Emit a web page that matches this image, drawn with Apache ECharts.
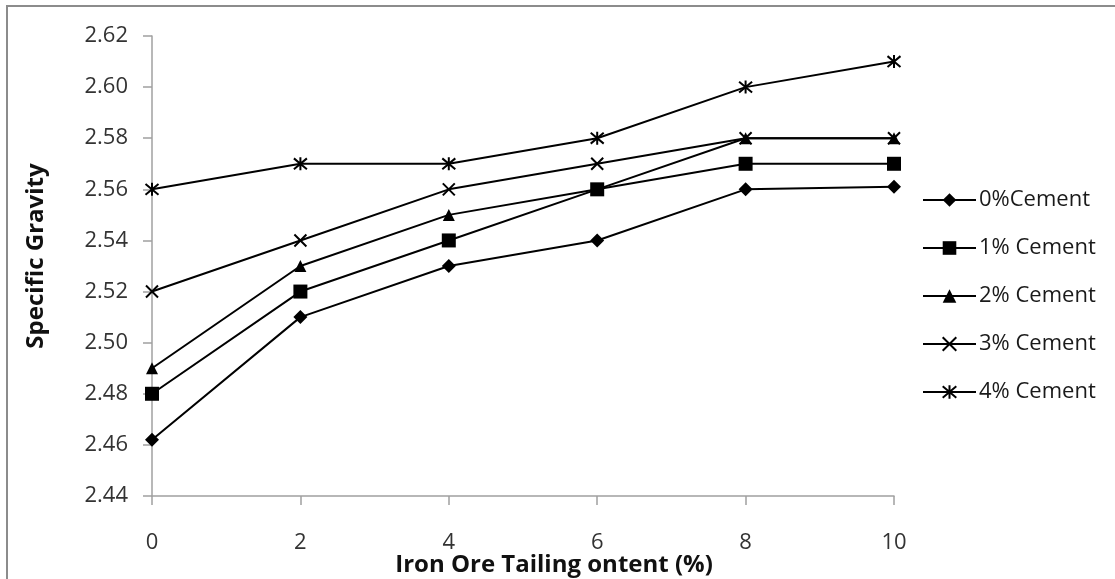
<!DOCTYPE html>
<html>
<head>
<meta charset="utf-8">
<script src="https://cdn.jsdelivr.net/npm/echarts@6/dist/echarts.min.js"></script>
<style>
html,body{margin:0;padding:0;background:#fff;}
#chart{width:1115px;height:579px;}
</style>
</head>
<body>
<div id="chart"></div>
<script>
var xValues = [0, 2, 4, 6, 8, 10];
var seriesNames = ['0%Cement', '1% Cement', '2% Cement', '3% Cement', '4% Cement'];
var cement0 = [2.462, 2.51, 2.53, 2.54, 2.56, 2.561];
var cement1 = [2.48, 2.52, 2.54, 2.56, 2.57, 2.57];
var cement2 = [2.49, 2.53, 2.55, 2.56, 2.58, 2.58];
var cement3 = [2.52, 2.54, 2.56, 2.57, 2.58, 2.58];
var cement4 = [2.56, 2.57, 2.57, 2.58, 2.60, 2.61];
var yTicks = ['2.44','2.46','2.48','2.50','2.52','2.54','2.56','2.58','2.60','2.62'];

var FONT = '"Open Sans", sans-serif';
var allSeries = [cement0, cement1, cement2, cement3, cement4];
var symbols = [
  'diamond',
  'rect',
  'triangle',
  'path://M0,0L10,10M10,0L0,10',
  'path://M0,0L10,10M10,0L0,10M5,-1L5,11'
];
var sizes = [14, 14, 12, 12, 13];
var isStroke = [false, false, false, true, true];

function pairs(vals){ return xValues.map(function(x,i){ return [x, vals[i]]; }); }

var chart = echarts.init(document.getElementById('chart'), null, {renderer:'canvas'});
var option = {
  animation: false,
  backgroundColor: '#fff',
  graphic: [{
    type: 'rect',
    shape: {x: 7, y: 6, width: 1300, height: 800},
    style: {fill: 'none', stroke: '#8c8c8c', lineWidth: 2},
    silent: true
  }],
  grid: {left: 152, right: 221, top: 36, bottom: 83, containLabel: false, outerBoundsMode: 'none'},
  legend: {
    orient: 'vertical',
    left: 917,
    top: 184,
    itemWidth: 53,
    itemHeight: 17,
    itemGap: 26,
    textStyle: {fontFamily: FONT, fontSize: 22, color: '#1a1a1a', padding: [0,0,0,-2]},
    data: seriesNames
  },
  xAxis: {
    type: 'value',
    min: 0, max: 10, interval: 2,
    name: 'Iron Ore Tailing ontent (%)',
    nameLocation: 'middle',
    nameGap: 57,
    nameMoveOverlap: false,
    nameTextStyle: {fontFamily: FONT, fontSize: 24, fontWeight: 'bold', color: '#111', padding: [0,0,0,62]},
    axisLine: {lineStyle: {color: '#a0a0a0', width: 1.5}},
    axisTick: {show: true, inside: false, length: 9, lineStyle: {color: '#a0a0a0', width: 1.5}},
    axisLabel: {fontFamily: FONT, fontSize: 22, color: '#333', margin: 36},
    splitLine: {show: false}
  },
  yAxis: {
    type: 'value',
    min: 2.44, max: 2.62, interval: 0.02,
    name: 'Specific Gravity',
    nameLocation: 'middle',
    nameGap: 104,
    nameMoveOverlap: false,
    nameRotate: 90,
    nameTextStyle: {fontFamily: FONT, fontSize: 24, fontWeight: 'bold', color: '#111', padding: [0,0,0,20]},
    axisLine: {show: true, lineStyle: {color: '#a0a0a0', width: 1.5}},
    axisTick: {show: true, inside: false, length: 9, lineStyle: {color: '#a0a0a0', width: 1.5}},
    axisLabel: {fontFamily: FONT, fontSize: 22, color: '#333', margin: 24,
      formatter: function(v){ var s = v.toFixed(2); return yTicks.indexOf(s) >= 0 ? s : ''; }},
    splitLine: {show: false}
  },
  series: allSeries.map(function(vals, i){
    return {
      name: seriesNames[i],
      type: 'line',
      data: pairs(vals),
      symbol: symbols[i],
      symbolSize: sizes[i],
      showAllSymbol: true,
      lineStyle: {color: '#000', width: 2},
      itemStyle: isStroke[i] ? {color: '#000', borderColor: '#000', borderWidth: 2} : {color: '#000', borderWidth: 0},
      emphasis: {disabled: true},
      z: 2 + i
    };
  })
};
chart.setOption(option);
</script>
</body>
</html>
